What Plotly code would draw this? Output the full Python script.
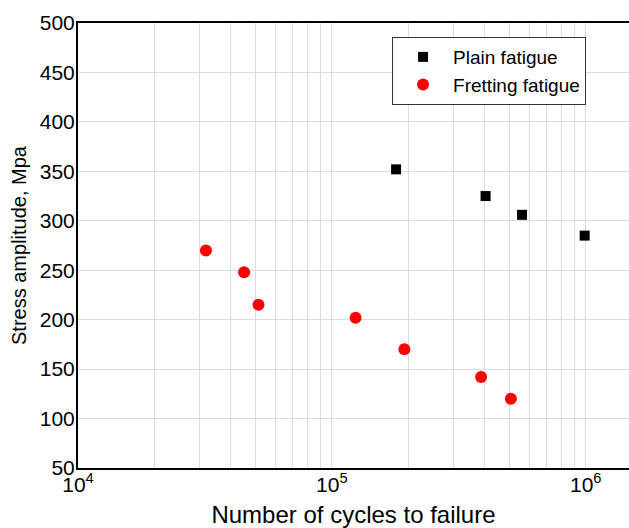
import numpy as np
import plotly.graph_objects as go

# Cycles to failure and stress amplitude (MPa)
plain_cycles = [1.79e5, 4.03e5, 5.61e5, 9.9e5]
plain_stress = [352, 325, 306, 285]

fretting_cycles = [3.19e4, 4.51e4, 5.14e4, 1.24e5, 1.93e5, 3.87e5, 5.07e5]
fretting_stress = [270, 248, 215, 202, 170, 142, 120]

y_ticks = list(range(50, 501, 50))
decades = [4, 5, 6]

# grid at every 1..9 x 10^k, labels only on decades
x_grid = [m * 10 ** d for d in decades for m in range(1, 10)]
x_text = [f"10<sup>{d}</sup>" if m == 1 else "" for d in decades for m in range(1, 10)]

font_family = "Liberation Sans, Arial, sans-serif"

fig = go.Figure()
fig.add_trace(go.Scatter(
    x=plain_cycles, y=plain_stress, mode="markers", name="Plain fatigue",
    marker=dict(symbol="square", size=10, color="black"),
))
fig.add_trace(go.Scatter(
    x=fretting_cycles, y=fretting_stress, mode="markers", name="Fretting fatigue",
    marker=dict(symbol="circle", size=12, color="#ff0000"),
))

fig.update_layout(
    width=629, height=528,
    margin=dict(l=78, r=0, t=23, b=60),
    paper_bgcolor="white", plot_bgcolor="white",
    font=dict(family=font_family, color="black", size=20),
    showlegend=True,
    legend=dict(
        x=0.570, y=0.9685, xanchor="left", yanchor="top",
        bgcolor="white", bordercolor="#333", borderwidth=1,
        font=dict(size=19), itemwidth=50, tracegroupgap=0,
    ),
)

fig.update_xaxes(
    type="log", range=[4, np.log10(1.48e6)],
    tickmode="array", tickvals=x_grid, ticktext=x_text,
    showgrid=True, gridcolor="#dcdcdc", gridwidth=1,
    showline=True, linecolor="black", linewidth=2, mirror=True,
    ticks="", tickfont=dict(size=21), ticklabelstandoff=-3,
    title=dict(text="Number of cycles to failure", font=dict(size=24), standoff=12),
    zeroline=False,
)
fig.update_yaxes(
    range=[50, 500], tickmode="array", tickvals=y_ticks,
    showgrid=True, gridcolor="#dcdcdc", gridwidth=1,
    showline=True, linecolor="black", linewidth=2, mirror=False,
    ticks="", tickfont=dict(size=21), ticklabelstandoff=-3,
    title=dict(text="Stress amplitude, Mpa", font=dict(size=20), standoff=8),
    zeroline=False,
)

fig.write_html("out.html")
